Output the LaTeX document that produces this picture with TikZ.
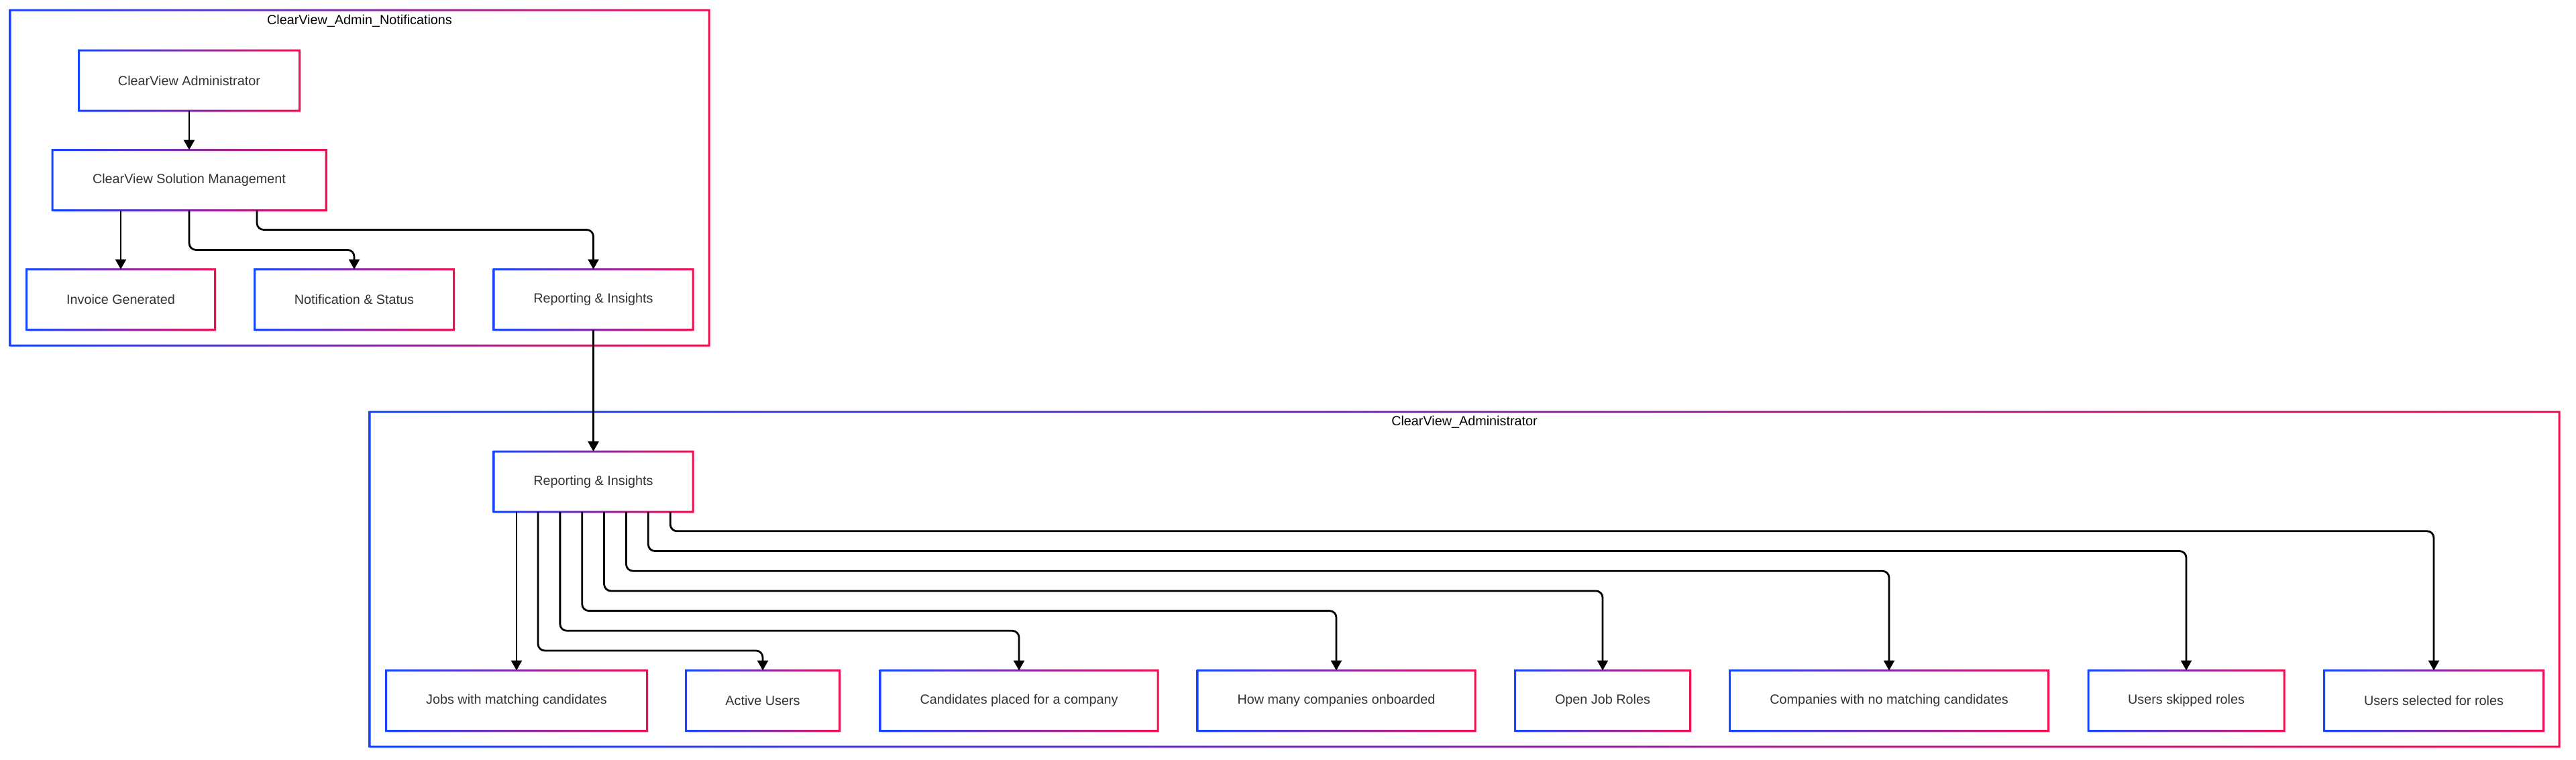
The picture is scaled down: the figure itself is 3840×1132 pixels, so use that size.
\documentclass[tikz,border=0pt]{standalone}
\usepackage{fontspec}
\setmainfont{Liberation Sans}
\usepackage{xcolor}
\usepackage{tikz}
\usetikzlibrary{arrows.meta,positioning,shadows}

\definecolor{cvblue}{RGB}{20,70,255}
\definecolor{cvred}{RGB}{240,16,80}
\definecolor{cvtext}{RGB}{51,51,51}

\begin{document}
\begin{tikzpicture}[x=0.5pt, y=-0.5pt,
    box/.style={rectangle, fill=white, draw=none, minimum height=45pt,
      outer sep=0pt, text=cvtext, font=\fontsize{9.9}{12}\selectfont,
      drop shadow={shadow xshift=1pt, shadow yshift=-1.5pt, fill=black, opacity=0.07}},
    group/.style={box, text=black},
    grptitle/.style={font=\fontsize{9.9}{12}\selectfont, text=black, inner sep=0pt},
    frame/.style={left color=cvblue, right color=cvred, even odd rule},
    edge/.style={draw=black, line width=1.4pt, rounded corners=5pt,
      -{Triangle[length=7.5pt,width=8pt]}}]
    \useasboundingbox[fill=white] (0,0) rectangle (3840,1132);

    % Clusters
    \node[group, minimum width=521pt, minimum height=250pt] (grpA) at (536,265) {};
    \node[grptitle] (ttlA) at ([yshift=-8pt]grpA.north) {ClearView\_Admin\_Notifications};
    \node[group, minimum width=1632pt, minimum height=249.5pt] (grpB) at (2183,863.5) {};
    \node[grptitle] (ttlB) at ([yshift=-7.5pt]grpB.north) {ClearView\_Administrator};

    % Admin notifications
    \node[box, minimum width=164.5pt] (adm) at (282,120) {ClearView Administrator};
    \node[box, minimum width=204pt] (sol) at (282,268.5) {ClearView Solution Management};
    \node[box, minimum width=140.5pt] (inv) at (180,446.5) {Invoice Generated};
    \node[box, minimum width=148.5pt] (note) at (528,446.5) {Notification \& Status};
    \node[box, minimum width=148.5pt] (repA) at (884.5,446.5) {Reporting \& Insights};

    % Administrator reports
    \node[box, minimum width=148.5pt] (repB) at (884.5,718) {Reporting \& Insights};
    \node[box, minimum width=194.5pt] (jobs) at (770,1044.5) {Jobs with matching candidates};
    \node[box, minimum width=114.5pt] (act) at (1137,1044.5) {Active Users};
    \node[box, minimum width=207pt] (cand) at (1519,1044.5) {Candidates placed for a company};
    \node[box, minimum width=207pt] (comp) at (1992,1044.5) {How many companies onboarded};
    \node[box, minimum width=130.5pt] (open) at (2389,1044.5) {Open Job Roles};
    \node[box, minimum width=237.5pt] (nomatch) at (2816,1044.5) {Companies with no matching candidates};
    \node[box, minimum width=146pt] (skip) at (3259,1044.5) {Users skipped roles};
    \node[box, minimum width=163.5pt] (sel) at (3628,1044.5) {Users selected for roles};

    % Gradient borders
    \foreach \n in {grpA,grpB,adm,sol,inv,note,repA,repB,jobs,act,cand,comp,open,nomatch,skip,sel} {
      \shade[frame]
        ([shift={(-0.75pt,-0.75pt)}]\n.south west) rectangle ([shift={(0.75pt,0.75pt)}]\n.north east)
        ([shift={(0.75pt,0.75pt)}]\n.south west) rectangle ([shift={(-0.75pt,-0.75pt)}]\n.north east);
    }

    % Edges
    \draw[edge] (adm.south) -- (sol.north);
    \draw[edge] (sol.south -| inv.north) -- (inv.north);
    \draw[edge] (sol.south) -- ++(0,59) -| (note.north);
    \draw[edge] ([xshift=50.5pt]sol.south) -- ++(0,29) -| (repA.north);
    \draw[edge] (repA.south) -- (repB.north);
    \draw[edge] (repB.south -| jobs.north) -- (jobs.north);
    \foreach \t [count=\k] in {act,cand,comp,open,nomatch,skip,sel} {
      \pgfmathsetmacro\dx{(802+32.86*(\k-1)-884.5)*0.5}
      \pgfmathsetmacro\dy{970-29.7*(\k-1)-763}
      \draw[edge] ([xshift=\dx pt]repB.south) -- ++(0,\dy) -| (\t.north);
    }
\end{tikzpicture}
\end{document}
